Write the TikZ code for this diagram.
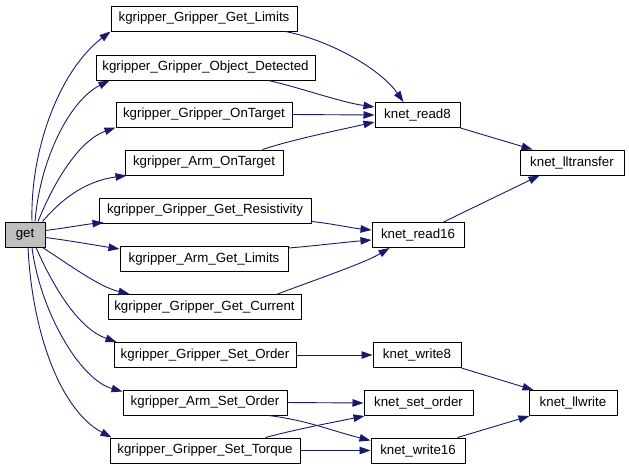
\documentclass[tikz,border=0pt]{standalone}
\usepackage{fontspec}
\setmainfont{Liberation Sans}
\usetikzlibrary{arrows.meta,calc}
\definecolor{edgecol}{HTML}{191970}
\begin{document}
\begin{tikzpicture}[x=1pt,y=-1pt,
  box/.style={draw=black,line width=1pt,minimum height=25pt,inner sep=0pt,font=\fontsize{13.3pt}{16pt}\selectfont},
  edge/.style={draw=edgecol,line width=0.9pt,-{Triangle[length=11pt,width=7.5pt]},color=edgecol}]
\useasboundingbox (0,0) rectangle (629,467);
\node[box,fill=black!25,minimum width=40pt] (get) at (25,234.5) {get};
\node[box,minimum width=186pt] (gl) at (204,18.5) {kgripper\_Gripper\_Get\_Limits};
\node[box,minimum width=219pt] (od) at (205.5,67.5) {kgripper\_Gripper\_Object\_Detected};
\node[box,minimum width=176pt] (got) at (204,114.5) {kgripper\_Gripper\_OnTarget};
\node[box,minimum width=158pt] (aot) at (204,162.5) {kgripper\_Arm\_OnTarget};
\node[box,minimum width=212pt] (res) at (205,210.5) {kgripper\_Gripper\_Get\_Resistivity};
\node[box,minimum width=168pt] (agl) at (204,259) {kgripper\_Arm\_Get\_Limits};
\node[box,minimum width=193pt] (gc) at (204.5,307) {kgripper\_Gripper\_Get\_Current};
\node[box,minimum width=182pt] (so) at (205,355) {kgripper\_Gripper\_Set\_Order};
\node[box,minimum width=164pt] (aso) at (205,402.5) {kgripper\_Arm\_Set\_Order};
\node[box,minimum width=190pt] (st) at (205,450.5) {kgripper\_Gripper\_Set\_Torque};
\node[box,minimum width=85pt] (r8) at (417.5,115) {knet\_read8};
\node[box,minimum width=104pt] (llt) at (572,162.5) {knet\_lltransfer};
\node[box,minimum width=92pt] (r16) at (418,235) {knet\_read16};
\node[box,minimum width=88pt] (w8) at (417,355) {knet\_write8};
\node[box,minimum width=109pt] (sord) at (418.5,403) {knet\_set\_order};
\node[box,minimum width=88pt] (llw) at (573,403) {knet\_llwrite};
\node[box,minimum width=94pt] (w16) at (418,450.5) {knet\_write16};
% from get
\draw[edge] ($(get.north)+(7,0)$) .. controls +(-2,-72) and +(-51,39) .. (gl.south west);
\draw[edge] ($(get.north)+(10,0)$) .. controls +(5,-62) and +(-40,20) .. ($(od.south west)+(14,0)$);
\draw[edge] ($(get.north)+(13,0)$) .. controls +(17,-42) and +(-36,13) .. (got.south west);
\draw[edge] ($(get.north east)+(-3,0)$) .. controls +(23,-27) and +(-37,5) .. ($(aot.south west)+(2,0)$);
\draw[edge] ($(get.east)+(0,-4)$) .. controls +(20,-2.5) and +(-19,2) .. ($(res.south west)+(5,-1)$);
\draw[edge] ($(get.east)+(0,3)$) .. controls +(20,2.5) and +(-25,-4) .. ($(agl.north west)+(0,3)$);
\draw[edge] ($(get.south east)+(-3,0)$) .. controls +(28,18) and +(-30,-7) .. ($(gc.north west)+(22,0)$);
\draw[edge] ($(get.south)+(11,0)$) .. controls +(19,43) and +(-37,-13) .. ($(so.north west)+(3,0)$);
\draw[edge] ($(get.south)+(7,0)$) .. controls +(8,63) and +(-43,-12) .. ($(aso.north west)+(0,2)$);
\draw[edge] ($(get.south)+(3,0)$) .. controls +(4,83) and +(-52,-28) .. ($(st.north west)+(2,0)$);
% to read8
\draw[edge] ($(gl.south east)+(-12,0)$) .. controls +(45,9) and +(-23,-33) .. ($(r8.north)+(-14,0)$);
\draw[edge] ($(od.south east)+(-47,0)$) .. controls +(35,8) and +(-35,-5) .. ($(r8.west)+(0,-8)$);
\draw[edge] (got.east) -- (r8.west);
\draw[edge] ($(aot.north east)+(-21,0)$) .. controls +(30,-10) and +(-35,8) .. ($(r8.west)+(0,7)$);
% to read16
\draw[edge] ($(res.south east)+(0,-2)$) .. controls +(20,2) and +(-20,-2) .. ($(r16.west)+(0,-5)$);
\draw[edge] ($(agl.east)+(0,-11)$) .. controls +(25,-2) and +(-25,2) .. ($(r16.west)+(0,5)$);
\draw[edge] ($(gc.north east)+(-24,0)$) .. controls +(40,-15) and +(-25,15) .. ($(r16.south west)+(18,0)$);
% to lltransfer
\draw[edge] (r8.south east) -- ($(llt.north west)+(13,0)$);
\draw[edge] ($(r16.north east)+(-21,0)$) -- ($(llt.south west)+(20,0)$);
% writes
\draw[edge] (so.east) -- (w8.west);
\draw[edge] (aso.east) -- (sord.west);
\draw[edge] ($(aso.south east)+(-19,0)$) .. controls +(40,5) and +(-40,-10) .. ($(w16.west)+(0,-10)$);
\draw[edge] ($(st.north east)+(-35,0)$) .. controls +(30,-8) and +(-40,8) .. ($(sord.south west)+(1,0)$);
\draw[edge] (st.east) -- (w16.west);
\draw[edge] (w8.south east) -- ($(llw.north west)+(5,0)$);
\draw[edge] ($(w16.north east)+(-8,0)$) -- ($(llw.south west)+(1,0)$);
\end{tikzpicture}
\end{document}
